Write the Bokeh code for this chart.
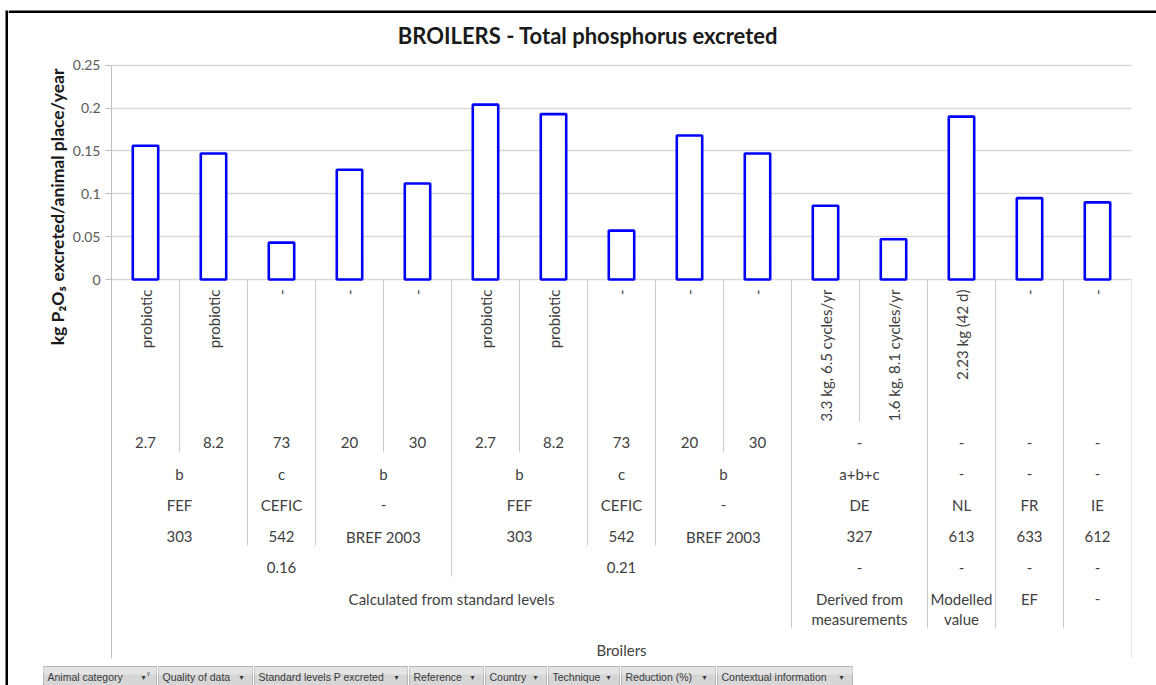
import math
from bokeh.plotting import figure
from bokeh.models import Range1d, FixedTicker, NumeralTickFormatter, Title
from bokeh.layouts import row, column
from bokeh.core.properties import value
from bokeh.embed import file_html
from bokeh.resources import INLINE

# ---------------- data ----------------
animal_category = ["Broilers"] * 15
quality_of_data = ["Calculated from standard levels"] * 10 + \
    ["Derived from\nmeasurements", "Derived from\nmeasurements", "Modelled\nvalue", "EF", "-"]
standard_levels = ["0.16", "0.16", "0.16", "0.16", "0.16",
                   "0.21", "0.21", "0.21", "0.21", "0.21",
                   "-", "-", "-", "-", "-"]
reference = ["303", "303", "542", "BREF 2003", "BREF 2003",
             "303", "303", "542", "BREF 2003", "BREF 2003",
             "327", "327", "613", "633", "612"]
country = ["FEF", "FEF", "CEFIC", "-", "-",
           "FEF", "FEF", "CEFIC", "-", "-",
           "DE", "DE", "NL", "FR", "IE"]
technique = ["b", "b", "c", "b", "b",
             "b", "b", "c", "b", "b",
             "a+b+c", "a+b+c", "-", "-", "-"]
reduction = ["2.7", "8.2", "73", "20", "30",
             "2.7", "8.2", "73", "20", "30",
             "-", "-", "-", "-", "-"]
contextual_information = ["probiotic", "probiotic", "-", "-", "-",
                          "probiotic", "probiotic", "-", "-", "-",
                          "3.3 kg, 6.5 cycles/yr", "1.6 kg, 8.1 cycles/yr",
                          "2.23 kg (42 d)", "-", "-"]
p2o5_excreted = [0.156, 0.147, 0.043, 0.128, 0.112,
                 0.204, 0.193, 0.057, 0.168, 0.147,
                 0.086, 0.047, 0.190, 0.095, 0.090]
y_ticks = [0, 0.05, 0.1, 0.15, 0.2, 0.25]
field_buttons = ["Animal category", "Quality of data", "Standard levels P excreted",
                 "Reference", "Country", "Technique", "Reduction (%)",
                 "Contextual information"]

# ---------------- layout helpers (page pixel -> data) ----------------
N = len(p2o5_excreted)
X0, CW = 111.0, 68.0        # plot-area left edge (px) and category width (px)
Y0, PPU = 279.0, 857.0      # zero line (px) and px per unit
def dx(px):
    return (px - X0) / CW
def dy(py):
    return (Y0 - py) / PPU

FONT = "Lato"
TXT = "#404040"
GRID = "#d9d9d9"
SEP = "#cccccc"
TOP, BOT = 13, 665          # vertical extent of the main figure on the page
LEFT = 8                    # width of the left border strip


def strip(width, height, x0, x1, y0, y1):
    f = figure(width=width, height=height, output_backend="svg", toolbar_location=None,
               x_range=Range1d(x0, x1), y_range=Range1d(y1, y0),
               x_axis_type=None, y_axis_type=None,
               min_border=0, min_border_left=0, min_border_right=0,
               min_border_top=0, min_border_bottom=0)
    f.frame_align = False
    f.title.visible = False
    f.outline_line_color = None
    f.grid.visible = False
    f.background_fill_color = "white"
    f.border_fill_color = "white"
    return f


# ---------------- main chart ----------------
p = figure(width=1156 - LEFT, height=BOT - TOP, output_backend="svg", toolbar_location=None,
           x_range=Range1d(0, N), y_range=Range1d(dy(BOT), dy(TOP)),
           x_axis_type=None,
           min_border_left=int(X0) - LEFT, min_border_right=1156 - 1131,
           min_border_top=0, min_border_bottom=0)
p.frame_align = False
p.title.visible = False
p.outline_line_color = None
p.background_fill_color = "white"
p.border_fill_color = "white"

ticker = FixedTicker(ticks=y_ticks)
yax = p.yaxis[0]
yax.ticker = ticker
yax.bounds = (dy(658), max(y_ticks))
yax.formatter = NumeralTickFormatter(format="0.[00]")
yax.axis_line_color = "#bfbfbf"
yax.major_tick_line_color = "#bfbfbf"
yax.major_tick_out = 6
yax.major_tick_in = 0
yax.minor_tick_line_color = None
yax.major_label_text_font = FONT
yax.major_label_text_font_size = "14px"
yax.major_label_text_color = "#595959"
yax.major_label_standoff = 5
p.ygrid[0].ticker = ticker
p.ygrid[0].grid_line_color = GRID
p.ygrid[0].grid_line_width = 1.3

p.add_layout(Title(text="kg P\u2082O\u2085 excreted/animal place/year", align="right",
                   offset=68 - TOP, standoff=4, text_font=FONT, text_font_style="bold",
                   text_font_size="17.5px", text_color="#1a1a1a"), "left")

# bars
xs = [i + 0.5 for i in range(N)]
p.vbar(x=xs, top=p2o5_excreted, bottom=0, width=0.374,
       fill_color="white", line_color="#0000ff", line_width=2.6)

# chart title
p.text(x=[dx(587.5)], y=[dy(35)], text=["BROILERS - Total phosphorus excreted"],
       text_align="center", text_baseline="middle", text_font=value(FONT),
       text_font_style="bold", text_font_size="22px", text_color="#1a1a1a")

# ---------------- multi-level category axis ----------------
levels = [animal_category, quality_of_data, standard_levels, reference,
          country, technique, reduction, contextual_information]
level_row_px = [649, 598, 567, 536, 504, 473, 442, 289]
level_bottom_px = [658, 628, 576, 545, 514, 483, 452, 421]


def groups(depth):
    res, start = [], 0
    for i in range(1, N + 1):
        if i == N or any(levels[d][i] != levels[d][i - 1] for d in range(depth + 1)):
            res.append((start, i, levels[depth][start]))
            start = i
    return res


for depth in range(len(levels)):
    gx, gy, gt = [], [], []
    for s, e, lab in groups(depth):
        for j, line in enumerate(lab.split("\n")):
            gx.append((s + e) / 2.0)
            gy.append(dy(level_row_px[depth] + 20 * j))
            gt.append(line)
    if depth == len(levels) - 1:
        p.text(x=gx, y=gy, text=gt, angle=math.pi / 2, text_align="right",
               text_baseline="middle", text_font=value(FONT),
               text_font_size="15px", text_color=TXT)
    else:
        p.text(x=gx, y=gy, text=gt, text_align="center", text_baseline="middle",
               text_font=value(FONT), text_font_size="15px", text_color=TXT)

# separators between label groups
sx, sy0, sy1 = [], [], []
for k in range(1, N):
    d = next(d for d in range(len(levels)) if levels[d][k] != levels[d][k - 1])
    sx.append(k); sy0.append(0); sy1.append(dy(level_bottom_px[d]))
sx.append(N); sy0.append(0); sy1.append(dy(level_bottom_px[0]))
p.segment(x0=sx, y0=sy0, x1=sx, y1=sy1, line_color=SEP, line_width=1)

# ---------------- page frame and pivot field buttons ----------------
left_strip = strip(LEFT, 685, 0, LEFT, 0, 685)
left_strip.quad(left=[5], right=[LEFT], top=[10], bottom=[685], fill_color="black", line_color=None)

top_strip = strip(1156 - LEFT, TOP, LEFT, 1156, 0, TOP)
top_strip.quad(left=[LEFT], right=[1156], top=[10], bottom=[TOP], fill_color="black", line_color=None)

btn = strip(1156 - LEFT, 685 - BOT, LEFT, 1156, BOT, 685)
btn_edges = [42, 157, 253, 408, 484, 547, 620, 716, 853]
bl = [btn_edges[i] + 1 for i in range(len(field_buttons))]
br = [btn_edges[i + 1] - 1 for i in range(len(field_buttons))]
btn.quad(left=bl, right=br, top=[666] * len(bl), bottom=[690] * len(bl),
         fill_color="#d6d6d6", line_color="#b4b4b4", line_width=1)
btn.quad(left=bl, right=br, top=[666.5] * len(bl), bottom=[674] * len(bl),
         fill_color="#e4e4e4", line_color=None)
btn.text(x=[l + 4 for l in bl], y=[676] * len(bl), text=field_buttons,
         text_align="left", text_baseline="middle", text_font=value("Liberation Sans"),
         text_font_size="10.5px", text_color="#3a3a3a")
btn.text(x=[br[0] - 8], y=[674], text=["\u1d5e"], text_align="center",
         text_baseline="middle", text_font=value("DejaVu Sans"),
         text_font_size="9px", text_color="#3a3a3a")
btn.text(x=[br[0] - 13] + [r - 11 for r in br[1:]], y=[677] * len(br),
         text=["\u25be"] * len(br), text_align="center", text_baseline="middle",
         text_font=value("DejaVu Sans"), text_font_size="8px", text_color="#3a3a3a")

layout = row(left_strip, column(top_strip, p, btn, spacing=0), spacing=0)
open("out.html", "w").write(file_html(layout, INLINE))
